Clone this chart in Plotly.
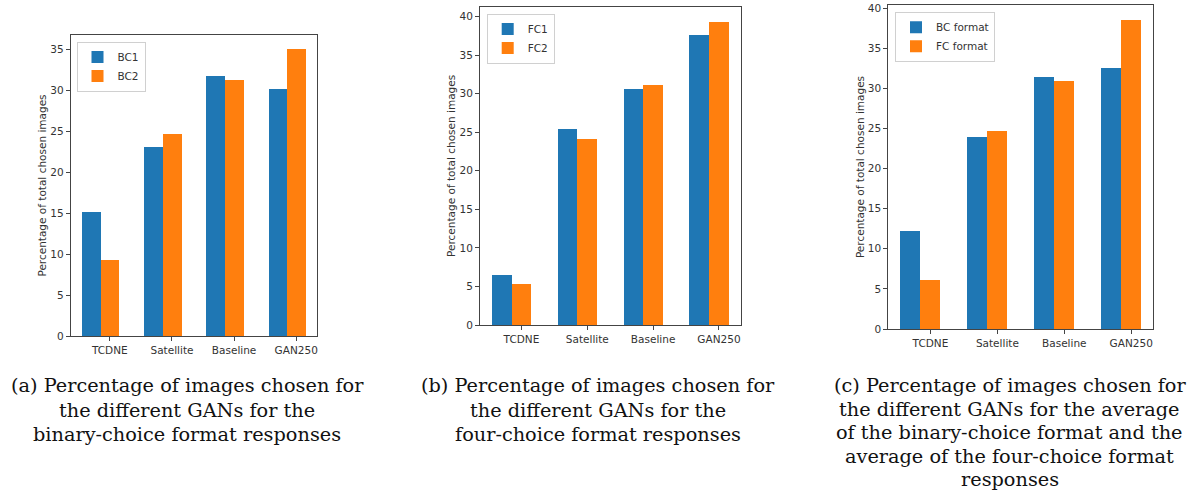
import numpy as np
import plotly.graph_objects as go

# ---------------- data ----------------
categories = ["TCDNE", "Satellite", "Baseline", "GAN250"]

bc1 = [15.1, 23.05, 31.7, 30.2]
bc2 = [9.3, 24.65, 31.2, 35.0]

fc1 = [6.5, 25.4, 30.7, 37.6]
fc2 = [5.4, 24.2, 31.1, 39.3]

bc_format = [12.2, 24.0, 31.45, 32.6]
fc_format = [6.1, 24.7, 30.9, 38.5]

series_a = ["BC1", "BC2"]
series_b = ["FC1", "FC2"]
series_c = ["BC format", "FC format"]

y_title = "Percentage of total chosen images"

captions = [
    ["(a) Percentage of images chosen for",
     "the different GANs for the",
     "binary-choice format responses"],
    ["(b) Percentage of images chosen for",
     "the different GANs for the",
     "four-choice format responses"],
    ["(c) Percentage of images chosen for",
     "the different GANs for the average",
     "of the binary-choice format and the",
     "average of the four-choice format",
     "responses"],
]

# ---------------- layout geometry ----------------
W, H = 1193, 496
BLUE, ORANGE = "#1f77b4", "#ff7f0e"
bar_w = 0.3
xpos = np.arange(len(categories))

panels = [
    dict(series=series_a, vals=(bc1, bc2), xpx=(70.7, 316.7), ypx=(35, 336), ymax=36.75,
         legend_px=(76.5, 41.5), cap_x=187, cap_base=391.7, cap_step=24.2),
    dict(series=series_b, vals=(fc1, fc2), xpx=(480, 740.7), ypx=(6.7, 325), ymax=41.27,
         legend_px=(486.7, 13.5), cap_x=598, cap_base=391.7, cap_step=24.2),
    dict(series=series_c, vals=(bc_format, fc_format), xpx=(888.3, 1153.3), ypx=(5, 329), ymax=40.4,
         legend_px=(895, 11.7), cap_x=1009.5, cap_base=391.7, cap_step=23.4),
]

cap_fs = 19.3


def fx(px):
    return px / W


def fy(py):
    return 1 - py / H


fig = go.Figure()
axis_common = dict(
    showline=True, mirror=True, linecolor="#444", linewidth=1,
    ticks="outside", ticklen=4, tickcolor="#444", showgrid=False, zeroline=False,
    automargin=False,
    tickfont=dict(family="DejaVu Sans", size=10.5, color="#333"),
)

layout_updates = {}
for i, p in enumerate(panels):
    k = "" if i == 0 else str(i + 1)
    leg = "legend" + k
    fig.add_trace(go.Bar(
        x=xpos, y=p["vals"][0], width=bar_w, name=p["series"][0],
        marker=dict(color=BLUE, line=dict(width=0)),
        xaxis="x" + k, yaxis="y" + k, legend=leg,
    ))
    fig.add_trace(go.Bar(
        x=xpos + bar_w, y=p["vals"][1], width=bar_w, name=p["series"][1],
        marker=dict(color=ORANGE, line=dict(width=0)),
        xaxis="x" + k, yaxis="y" + k, legend=leg,
    ))
    layout_updates["xaxis" + k] = dict(
        axis_common,
        domain=[fx(p["xpx"][0]), fx(p["xpx"][1])],
        anchor="y" + k,
        range=[-0.33, 3.63],
        tickvals=list(xpos + bar_w), ticktext=categories,
    )
    layout_updates["yaxis" + k] = dict(
        axis_common,
        domain=[fy(p["ypx"][1]), fy(p["ypx"][0])],
        anchor="x" + k,
        range=[0, p["ymax"]],
        dtick=5,
        title=dict(text=y_title, font=dict(family="DejaVu Sans", size=10.5, color="#333"), standoff=1),
    )
    layout_updates[leg] = dict(
        x=fx(p["legend_px"][0]), y=fy(p["legend_px"][1]),
        xanchor="left", yanchor="top",
        bgcolor="rgba(255,255,255,0.9)", bordercolor="#d0d0d0", borderwidth=1,
        font=dict(family="DejaVu Sans", size=10.5, color="#333"),
        tracegroupgap=0,
    )
    for j, line in enumerate(captions[i]):
        base = p["cap_base"] + j * p["cap_step"]
        fig.add_annotation(
            text=line, xref="paper", yref="paper",
            x=fx(p["cap_x"]), y=fy(base - 0.3 * cap_fs),
            xanchor="center", yanchor="middle",
            showarrow=False, align="center",
            font=dict(family="DejaVu Serif", size=cap_fs, color="#111"),
        )

fig.update_layout(
    width=W, height=H, margin=dict(l=0, r=0, t=0, b=0),
    paper_bgcolor="white", plot_bgcolor="white",
    barmode="overlay", bargap=0,
    showlegend=True,
    **layout_updates,
)

# remove the default 8px page margin so the figure fills the window exactly
fig.write_html(
    "out.html",
    config={"displayModeBar": False},
    post_script="document.body.style.margin='0';",
)
